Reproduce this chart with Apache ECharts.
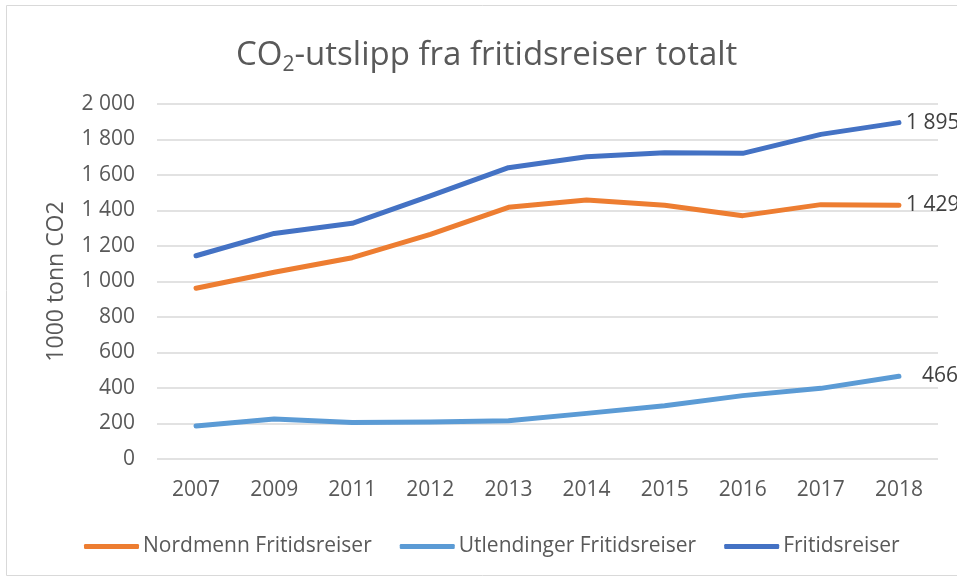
<!DOCTYPE html>
<html><head><meta charset="utf-8">
<script src="https://cdn.jsdelivr.net/npm/echarts@6/dist/echarts.min.js"></script>
<style>html,body{margin:0;padding:0;background:#fff}#c{width:957px;height:579px}</style>
</head><body><div id="c"></div>
<script>
const categories = ['2007','2009','2011','2012','2013','2014','2015','2016','2017','2018'];
const nordmenn = [962, 1052, 1134, 1266, 1418, 1459, 1429, 1371, 1433, 1429];
const utlendinger = [186, 225, 205, 208, 216, 257, 300, 357, 398, 466];
const fritidsreiser = [1145, 1271, 1328, 1483, 1641, 1703, 1726, 1722, 1829, 1895];
const seriesNames = ['Nordmenn Fritidsreiser', 'Utlendinger Fritidsreiser', 'Fritidsreiser'];
const yTicks = [0, 200, 400, 600, 800, 1000, 1200, 1400, 1600, 1800, 2000];

const FONT = '"Open Sans", sans-serif';
const TXT = '#595959';
const fmt = v => String(v).replace(/\B(?=(\d{3})+(?!\d))/g, ' ');
const mk = (name, data, color, dist) => ({
  name, type: 'line', data, symbol: 'none', smooth: false,
  lineStyle: { width: 5, color, cap: 'round', join: 'round' },
  itemStyle: { color },
  endLabel: { show: true, distance: dist, color: '#404040', fontSize: 21, fontFamily: FONT,
    formatter: p => fmt(p.value) },
  z: 3
});

const chart = echarts.init(document.getElementById('c'));
chart.setOption({
  animation: false,
  textStyle: { fontFamily: FONT },
  title: {
    text: '{a|CO}{s|2}{a|-utslipp fra fritidsreiser totalt}',
    left: 231, top: 30,
    textStyle: { fontWeight: 'normal', rich: {
      a: { fontSize: 33, color: TXT, fontFamily: FONT, fontWeight: 'normal' },
      s: { fontSize: 21, color: TXT, fontFamily: FONT, fontWeight: 'normal', padding: [20, 0, 0, 0] }
    } }
  },
  graphic: [{ type: 'rect', shape: { x: 6.5, y: 5.5, width: 960, height: 570 },
    style: { fill: 'none', stroke: '#D9D9D9', lineWidth: 1 }, silent: true, z: -1 }],
  legend: {
    top: 531, left: 79, itemWidth: 55, itemHeight: 5, itemGap: 28,
    icon: 'roundRect',
    textStyle: { fontSize: 21, color: TXT, fontFamily: FONT, padding: [0, 0, 0, -1] },
    data: seriesNames
  },
  grid: { left: 157, right: 19, top: 104, bottom: 120, containLabel: false },
  xAxis: {
    type: 'category', data: categories, boundaryGap: true,
    axisLine: { show: false }, axisTick: { show: false },
    axisLabel: { fontSize: 21, color: TXT, margin: 21, fontFamily: FONT }
  },
  yAxis: {
    type: 'value', min: 0, max: 2000, interval: 200,
    name: '1000 tonn CO2', nameLocation: 'middle', nameGap: 89, nameRotate: 90,
    nameTextStyle: { fontSize: 23, color: TXT, fontFamily: FONT },
    axisLine: { show: false }, axisTick: { show: false },
    axisLabel: { fontSize: 21, color: TXT, margin: 22, fontFamily: FONT,
      formatter: v => yTicks.includes(v) ? fmt(v) : '' },
    splitLine: { lineStyle: { color: '#D9D9D9', width: 1.5 } }
  },
  series: [
    mk(seriesNames[0], nordmenn, '#ED7D31', 7),
    mk(seriesNames[1], utlendinger, '#5B9BD5', 23),
    mk(seriesNames[2], fritidsreiser, '#4472C4', 7)
  ]
});
</script></body></html>
